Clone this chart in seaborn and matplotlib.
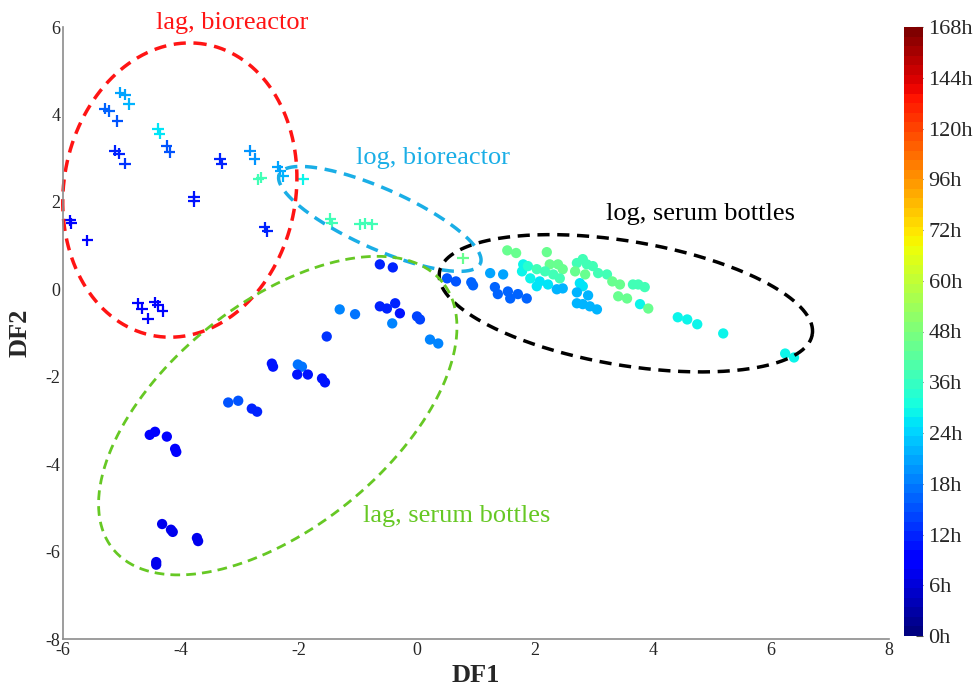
import numpy as np
import pandas as pd
import matplotlib
matplotlib.use("Agg")
import matplotlib.pyplot as plt
import seaborn as sns

# -------------------- DATA --------------------
# colour bar: equally spaced labels, non-linear hours
cbar_hours = [0, 6, 12, 18, 24, 36, 48, 60, 72, 96, 120, 144, 168]
cbar_labels = [f"{h}h" for h in cbar_hours]

# bioreactor samples (plus markers)
bio_x = [-5.03, -4.95, -4.88, -5.29, -5.22, -5.08, -5.12, -5.05, -4.95, -4.39, -4.36,
         -4.24, -4.19, -3.34, -3.31, -3.78, -3.78, -5.88, -5.86, -5.59, -4.73, -4.66,
         -4.44, -4.39, -4.31, -4.56, -2.83, -2.75, -2.69, -2.64, -2.36, -2.32, -2.27,
         -1.93, -2.58, -2.54, -1.47, -1.44, -0.97, -0.88, -0.76, 0.78]
bio_y = [4.50, 4.45, 4.24, 4.13, 4.08, 3.85, 3.17, 3.10, 2.87, 3.67, 3.56,
         3.28, 3.14, 2.98, 2.87, 2.11, 2.02, 1.58, 1.51, 1.12, -0.32, -0.44,
         -0.30, -0.37, -0.50, -0.67, 3.17, 2.98, 2.52, 2.55, 2.80, 2.71, 2.59,
         2.52, 1.42, 1.33, 1.61, 1.51, 1.49, 1.51, 1.49, 0.71]
bio_h = [21, 21, 22, 16, 16, 15, 12, 12, 13, 27, 27,
         15, 15, 12, 12, 11, 11, 10, 10, 10, 9, 9,
         9, 9, 9, 9, 20, 20, 37, 37, 21, 21, 22,
         28, 12, 12, 37, 37, 38, 38, 38, 44]

# serum bottle samples (filled circles)
serum_x = [-0.63, -0.41, -1.31, -1.05, -0.63, -0.51, -0.37, -0.29, 0.00, 0.05, -0.42,
           -1.53, 0.22, 0.36, -2.46, -2.44, -2.02, -1.95, -2.03, -1.85, -1.61, -1.56,
           -3.20, -3.03, -2.80, -2.71, -4.53, -4.44, -4.24, -4.10, -4.08, -4.32, -4.17,
           -4.14, -3.73, -3.71, -4.42, -4.42,
           0.51, 0.66, 0.92, 0.95, 1.24, 1.46, 1.32, 1.37, 1.54, 1.58, 1.71, 1.86,
           1.53, 1.68, 2.20, 1.80, 1.78, 1.88, 2.03, 1.92, 2.08, 2.03, 2.22, 2.25,
           2.39, 2.47, 2.17, 2.31, 2.42, 2.37, 2.47, 2.71, 2.81, 2.88, 2.98, 2.68,
           2.85, 3.07, 3.22, 2.76, 2.81, 2.90, 2.71, 2.71, 2.81, 2.93, 3.05, 3.31,
           3.44, 3.66, 3.75, 3.86, 3.41, 3.56, 3.78, 3.92, 4.42, 4.58, 4.75, 5.19,
           6.24, 6.39]
serum_y = [0.57, 0.50, -0.46, -0.57, -0.39, -0.44, -0.32, -0.55, -0.62, -0.69, -0.78,
           -1.08, -1.15, -1.24, -1.70, -1.77, -1.72, -1.77, -1.95, -1.95, -2.04, -2.13,
           -2.59, -2.55, -2.73, -2.80, -3.33, -3.26, -3.37, -3.65, -3.72, -5.37, -5.50,
           -5.55, -5.69, -5.76, -6.24, -6.30,
           0.25, 0.18, 0.16, 0.09, 0.37, 0.34, 0.05, -0.11, -0.05, -0.21, -0.11, -0.21,
           0.89, 0.83, 0.85, 0.57, 0.41, 0.53, 0.46, 0.25, 0.18, 0.07, 0.11, 0.57,
           0.57, 0.46, 0.41, 0.34, 0.25, 0.00, 0.02, 0.60, 0.69, 0.57, 0.53, 0.41,
           0.34, 0.37, 0.34, 0.14, 0.07, -0.14, -0.07, -0.32, -0.34, -0.39, -0.46, 0.18,
           0.11, 0.11, 0.11, 0.05, -0.16, -0.21, -0.34, -0.44, -0.64, -0.69, -0.80, -1.01,
           -1.47, -1.56]
serum_h = [12, 12, 18, 17, 12, 12, 12, 11, 14, 14, 18,
           13, 18, 18, 11, 11, 17, 17, 11, 11, 11, 11,
           15, 15, 12, 12, 8, 8, 8, 8, 8, 7, 7,
           7, 7, 7, 7, 7,
           15, 15, 16, 16, 21, 21, 16, 16, 16, 16, 16, 16,
           45, 45, 44, 29, 29, 33, 37, 28, 27, 27, 27, 44,
           44, 44, 38, 38, 38, 22, 22, 38, 38, 38, 38, 44,
           44, 38, 38, 27, 27, 22, 22, 22, 22, 22, 22, 44,
           44, 38, 38, 38, 45, 45, 28, 45, 28, 28, 28, 28,
           29, 29]

# group outlines: label, colour, centre (DF1, DF2), semi-axes (px), angle (deg)
groups = ["lag, bioreactor", "log, bioreactor", "log, serum bottles", "lag, serum bottles"]
group_colors = ["#ff1414", "#1aaee6", "#000000", "#66c824"]
group_centers = [(-4.02, 2.27), (-0.63, 1.61), (3.54, -0.32), (-2.36, -2.89)]
group_axes = [(148, 116), (110, 30), (189, 62), (212, 112)]
group_angles = [80, -24, -9.5, 39]
label_pos = [(-3.14, 6.1), (0.27, 3.0), (4.81, 1.72), (0.68, -5.18)]

# -------------------- PLOT --------------------
sns.set_style("white")
plt.rcParams["font.family"] = ["Liberation Serif", "DejaVu Serif"]
plt.rcParams["axes.unicode_minus"] = False

cmap = plt.get_cmap("jet", 64)


def to_cbar(hours):
    # position on the equally spaced colour bar
    return np.interp(hours, cbar_hours, np.arange(len(cbar_hours)))


bio = pd.DataFrame({"DF1": bio_x, "DF2": bio_y, "c": to_cbar(bio_h)})
serum = pd.DataFrame({"DF1": serum_x, "DF2": serum_y, "c": to_cbar(serum_h)})

fig = plt.figure(figsize=(9.74, 6.9), dpi=100)
ax = fig.add_axes([63 / 974, 51 / 690, 826 / 974, 612 / 690])
ax.set_xlim(-6, 8)
ax.set_ylim(-8, 6)

sns.scatterplot(data=serum, x="DF1", y="DF2", hue="c", palette=cmap, hue_norm=(0, 12),
                marker="o", s=55, edgecolor="none", legend=False, ax=ax)
sns.scatterplot(data=bio, x="DF1", y="DF2", hue="c", palette=cmap, hue_norm=(0, 12),
                marker="+", s=65, linewidth=1.6, legend=False, ax=ax)

# dashed group outlines
t = np.linspace(0, 2 * np.pi, 300)
for name, col, cen, (a, b), ang, lp in zip(groups, group_colors, group_centers,
                                           group_axes, group_angles, label_pos):
    phi = np.deg2rad(ang)
    cx, cy = ax.transData.transform(cen)
    dx = a * np.cos(t) * np.cos(phi) - b * np.sin(t) * np.sin(phi)
    dy = a * np.cos(t) * np.sin(phi) + b * np.sin(t) * np.cos(phi)
    pts = ax.transData.inverted().transform(np.column_stack([cx + dx, cy + dy]))
    lw = 2.0 if name == "lag, serum bottles" else 2.5
    ax.plot(pts[:, 0], pts[:, 1], color=col, lw=lw, ls=(0, (3.5, 2.2)), clip_on=False)
    ax.text(lp[0], lp[1], name, color=col, fontsize=19, ha="center", va="center",
            clip_on=False)

ax.set_xticks(np.arange(-6, 9, 2))
ax.set_yticks(np.arange(-8, 7, 2))
ax.tick_params(direction="in", length=6, color="0.5", labelsize=13, pad=2)
for side in ["top", "right"]:
    ax.spines[side].set_visible(False)
for side in ["left", "bottom"]:
    ax.spines[side].set_color("0.55")
    ax.spines[side].set_linewidth(1.2)
ax.set_xlabel("DF1", fontsize=19, fontweight="bold", labelpad=4)
ax.set_ylabel("DF2", fontsize=19, fontweight="bold", labelpad=10)

# colour bar
cax = fig.add_axes([904 / 974, 54 / 690, 19 / 974, 609 / 690])
sm = plt.cm.ScalarMappable(cmap=cmap, norm=plt.Normalize(0, 12))
cb = fig.colorbar(sm, cax=cax, ticks=np.arange(len(cbar_hours)))
cb.ax.set_yticklabels(cbar_labels)
cb.outline.set_visible(False)
cb.ax.tick_params(direction="in", length=5, color="0.3", labelsize=16, pad=4)

fig.savefig("out.png", dpi=100)
